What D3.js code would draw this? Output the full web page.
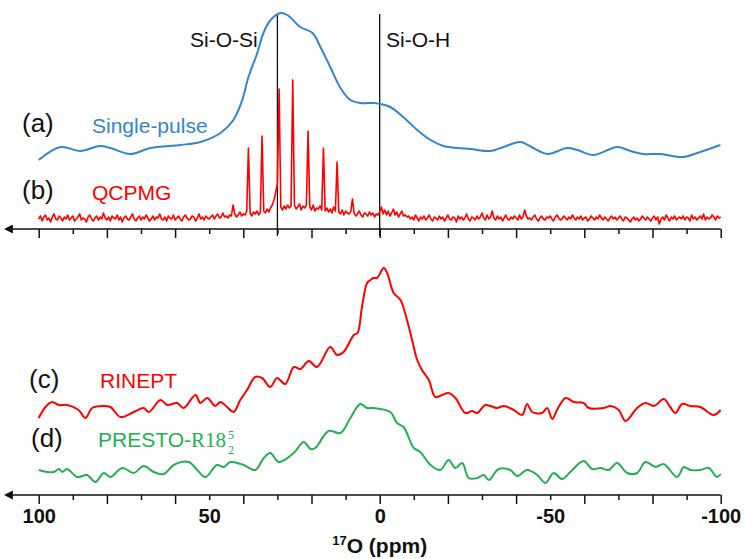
<!DOCTYPE html>
<html>
<head>
<meta charset="utf-8">
<script src="https://cdn.jsdelivr.net/npm/d3@7"></script>
<style>
  body { margin: 0; background: #fff; }
  svg { display: block; font-family: Arial, "Liberation Sans", sans-serif; }
</style>
</head>
<body>
<svg id="chart" width="745" height="559"></svg>
<script>

// (a) single-pulse, [ppm, intensity]
var singlePulse = [
	[100.0,69],[93.6,82],[87.8,78],[81.9,83],[79.0,81],[73.1,75],[67.2,81],[58.4,84],
	[52.6,87],[46.7,96],[42.9,109],[40.3,129],[38.5,152],[35.9,176],[34.1,196],[32.0,209],
	[29.1,216],[27.1,214],[23.3,202],[19.7,196],[17.4,182],[14.5,162],[11.5,141],[8.6,129],
	[5.7,126],[1.8,126],[-0.2,125],[-3.1,122],[-6.9,112],[-11.0,99],[-14.9,89],[-18.7,83],
	[-22.8,81],[-26.6,80],[-32.5,78],[-36.3,82],[-41.3,87],[-45.0,81],[-49.2,75],[-55.0,81],
	[-58.0,79],[-62.7,74],[-69.7,82],[-73.5,78],[-77.3,75],[-82.3,75],[-89.0,72],[-94.0,77],
	[-99.9,84]
];

// (b) QCPMG, sampled every 0.5 ppm from 100 down to -100
var qcpmgStart = 100, qcpmgStep = -0.5;
var qcpmg = [
	10,13,8,12,14,9,11,7,12,15,10,9,13,11,8,12,10,14,9,11,
	13,8,10,12,15,9,11,10,7,12,14,10,8,11,13,9,12,10,16,11,
	9,12,8,13,11,10,14,9,12,7,11,13,10,9,12,15,10,8,11,13,
	9,12,10,14,11,8,10,13,9,12,11,15,10,9,12,8,13,11,10,14,
	9,11,13,10,8,12,14,11,9,10,13,12,8,11,15,10,12,9,13,11,10,
	12,14,10,13,15,11,12,16,12,13,11,14,13,
	24,
	15,12,14,17,13,15,14,18,
	81,
	16,13,17,15,18,14,17,
	93,
	18,16,20,17,21,24,29,37,
	45,
	140,
	22,19,23,20,24,21,23,
	149,
	24,20,22,25,19,23,21,24,
	98,
	22,19,24,18,21,20,23,19,
	81,
	18,21,17,20,16,22,18,
	67,
	17,15,19,14,18,16,15,17,
	30,
	16,13,15,18,14,12,16,15,13,17,14,16,12,15,14,
	17,22,15,19,14,18,13,16,20,14,17,12,15,18,13,14,12,
	13,10,12,9,14,11,8,12,10,13,9,11,14,10,8,12,11,9,13,10,
	12,8,11,14,10,9,12,11,7,13,10,12,9,11,15,10,8,12,11,9,
	13,10,12,16,11,9,14,10,12,18,11,9,13,10,12,8,11,14,10,9,
	12,10,13,11,9,14,10,12,19,13,10,11,9,12,14,10,8,11,13,10,
	9,12,11,13,10,8,12,14,11,9,10,13,11,9,12,10,14,11,9,12,
	10,13,9,11,12,8,10,13,11,9,12,10,14,11,9,12,10,8,11,13,
	10,12,9,11,13,10,8,12,11,9,7,10,12,9,11,8,10,13,11,9,
	12,10,8,11,13,9,12,5,10,12,9,14,11,8,12,10,13,9,11,12,
	10,13,9,12,11,8,14,10,12,9,11,13,10,15,9,12,10,11,14,12,9,13,11,12
];

// (c) RINEPT
var rinept = [
	[100.0,77],[98.0,88],[96.1,93],[94.1,90],[91.7,90],[88.3,85],[86.3,77],[84.3,87],
	[80.9,89],[79.0,88],[76.0,78],[72.1,83],[69.2,87],[67.7,83],[64.3,95],[62.3,90],
	[59.4,92],[57.5,87],[54.0,100],[52.6,92],[50.6,97],[48.2,89],[46.7,93],[44.8,88],
	[42.8,83],[40.9,95],[38.9,105],[36.5,118],[34.5,117],[32.1,108],[30.1,117],[27.7,111],
	[25.2,128],[23.3,126],[20.8,134],[18.4,128],[14.5,148],[12.5,140],[10.6,143],[7.6,160],
	[6.5,162],[5.2,188],[3.7,212],[2.7,215],[1.8,217],[0.8,217],[-1.2,227],[-2.2,222],
	[-4.1,202],[-6.1,195],[-8.0,175],[-9.5,155],[-11.0,135],[-12.4,125],[-14.4,115],[-16.3,98],
	[-18.3,100],[-20.2,102],[-22.2,97],[-25.1,82],[-27.1,84],[-28.6,82],[-31.0,90],[-34.4,87],
	[-36.4,89],[-39.3,85],[-41.8,80],[-43.2,91],[-44.7,83],[-47.6,82],[-49.1,87],[-50.6,76],
	[-52.0,85],[-54.5,97],[-56.9,93],[-59.8,92],[-61.3,87],[-65.7,87],[-67.7,89],[-70.1,85],
	[-72.1,74],[-75.5,87],[-77.9,92],[-80.4,89],[-83.3,96],[-85.2,88],[-86.7,82],[-88.7,91],
	[-91.1,89],[-94.0,88],[-97.9,80],[-100.0,85]
];

// (d) PRESTO-R18
var presto = [
	[100.0,25],[97.5,23],[95.6,23],[94.1,26],[93.1,23],[91.7,26],[88.7,18],[85.8,20],
	[83.4,13],[80.9,22],[79.0,18],[75.5,27],[72.1,22],[69.2,29],[66.3,23],[63.3,21],
	[60.4,30],[56.0,33],[53.5,25],[51.1,18],[47.7,30],[45.7,28],[43.8,33],[39.9,30],
	[36.5,25],[34.0,37],[32.1,42],[29.6,33],[25.2,42],[22.3,53],[20.3,46],[18.9,47],
	[15.0,64],[11.5,62],[8.6,77],[5.7,91],[3.7,87],[1.8,87],[-3.1,83],[-5.1,72],
	[-7.0,68],[-10.0,47],[-11.9,43],[-14.9,30],[-17.8,25],[-20.2,35],[-22.2,27],[-24.2,32],
	[-26.1,17],[-28.6,17],[-30.5,20],[-32.0,15],[-34.9,26],[-38.3,25],[-40.3,19],[-43.2,25],
	[-46.2,20],[-48.6,12],[-51.0,22],[-53.5,16],[-55.9,23],[-59.8,34],[-62.3,26],[-64.7,27],
	[-67.2,25],[-69.6,32],[-72.6,22],[-75.5,22],[-77.9,33],[-80.9,28],[-83.3,31],[-87.2,18],
	[-89.2,28],[-91.1,25],[-94.0,25],[-96.5,27],[-98.9,18],[-100.0,21]
];

var majorTicks = [100, 80, 60, 40, 20, 0, -20, -40, -60, -80, -100];
var minorTicks = [90, 70, 50, 30, 10, -10, -30, -50, -70, -90];
var tickLabels = [100, 50, 0, -50, -100];
var markers = [30, 0];

var svg = d3.select('#chart');
var g = svg.append('g');

var xScale = d3.scaleLinear().domain([100, -100]).range([38.7, 720.7]);
var yTop = d3.scaleLinear().domain([0, 215]).range([229, 14]);
var yBot = d3.scaleLinear().domain([0, 230]).range([495, 265]);

svg.append('defs').append('marker')
	.attr('id', 'arrow')
	.attr('viewBox', '0 0 10 10')
	.attr('refX', 1)
	.attr('refY', 5)
	.attr('markerWidth', 6)
	.attr('markerHeight', 6)
	.attr('orient', 'auto-start-reverse')
	.append('path')
	.attr('d', 'M0,0 L10,5 L0,10 z')
	.style('fill', '#111');

function drawAxis(y, labels) {

	g.append('g')
		.attr('transform', 'translate(0,' + y + ')')
		.call(d3.axisBottom(xScale).tickValues(majorTicks).tickSize(9).tickSizeOuter(0).tickFormat(''))
		.call(function(a) { a.select('.domain').remove(); })
		.selectAll('line').attr('stroke', '#111').attr('stroke-width', 1.5);

	g.append('g')
		.attr('transform', 'translate(0,' + y + ')')
		.call(d3.axisBottom(xScale).tickValues(minorTicks).tickSize(5).tickSizeOuter(0).tickFormat(''))
		.call(function(a) { a.select('.domain').remove(); })
		.selectAll('line').attr('stroke', '#111').attr('stroke-width', 1.5);

	g.append('line') // axis with arrow to the left
		.attr('x1', xScale(-100))
		.attr('y1', y)
		.attr('x2', 12)
		.attr('y2', y)
		.attr('stroke', '#111')
		.attr('stroke-width', 1.5)
		.attr('marker-end', 'url(#arrow)');

	if (labels) {
		var ax = g.append('g')
			.attr('transform', 'translate(0,' + y + ')')
			.call(d3.axisBottom(xScale).tickValues(tickLabels).tickSize(0).tickPadding(14)
				.tickFormat(function(d) { return String(d); }));
		ax.select('.domain').remove();
		ax.selectAll('text')
			.style('font-family', 'Arial, "Liberation Sans", sans-serif')
			.style('font-size', '20px')
			.style('font-weight', 'bold')
			.style('fill', '#111')
			.attr('dy', '0.71em');
	}
}

drawAxis(229, false);
drawAxis(495, true);

markers.forEach(function(m) {
	g.append('line')
		.attr('x1', xScale(m))
		.attr('y1', 14)
		.attr('x2', xScale(m))
		.attr('y2', 236)
		.attr('stroke', '#111')
		.attr('stroke-width', 1.3);
});

var smooth = d3.curveCatmullRom.alpha(0.5);

var lineTop = d3.line()
	.x(function(d) { return xScale(d[0]); })
	.y(function(d) { return yTop(d[1]); })
	.curve(smooth);

var lineBot = d3.line()
	.x(function(d) { return xScale(d[0]); })
	.y(function(d) { return yBot(d[1]); })
	.curve(smooth);

var qcpmgLine = d3.line()
	.x(function(d, i) { return xScale(qcpmgStart + qcpmgStep * i); })
	.y(function(d) { return yTop(d); });

g.append('path')
	.datum(qcpmg)
	.attr('d', qcpmgLine)
	.style('fill', 'none')
	.attr('stroke', '#ff0000')
	.attr('stroke-width', 1.6)
	.attr('stroke-linejoin', 'round');

g.append('path')
	.datum(singlePulse)
	.attr('d', lineTop)
	.style('fill', 'none')
	.attr('stroke', '#3585cc')
	.attr('stroke-width', 2);

g.append('path')
	.datum(rinept)
	.attr('d', lineBot)
	.style('fill', 'none')
	.attr('stroke', '#ff0000')
	.attr('stroke-width', 2);

g.append('path')
	.datum(presto)
	.attr('d', lineBot)
	.style('fill', 'none')
	.attr('stroke', '#22b050')
	.attr('stroke-width', 2);

function label(x, y, txt, size, color) {
	return g.append('text')
		.attr('x', x)
		.attr('y', y)
		.text(txt)
		.style('font-size', size + 'px')
		.style('fill', color);
}

label(190, 47, 'Si-O-Si', 21, '#111');
label(386, 47, 'Si-O-H', 21, '#111');

label(22, 132, '(a)', 26, '#111');
label(92, 133, 'Single-pulse', 21, '#3585cc');
label(22, 199, '(b)', 26, '#111');
label(92, 200, 'QCPMG', 21, '#ff0000');
label(29, 388, '(c)', 26, '#111');
label(100, 388, 'RINEPT', 21, '#ff0000');
label(31, 447, '(d)', 26, '#111');

// PRESTO-R18 with stacked 5 over 2, kept in one text element
var pr = label(98, 447, 'PRESTO-', 21, '#22b050');
pr.append('tspan')
	.text('R18')
	.style('font-family', '"Liberation Serif", "DejaVu Serif", serif');
var prEnd = 98 + pr.node().getComputedTextLength() + 2;
pr.append('tspan')
	.attr('x', prEnd)
	.attr('y', 439)
	.text('5')
	.style('font-size', '12px')
	.style('font-family', '"Liberation Serif", serif');
pr.append('tspan')
	.attr('x', prEnd)
	.attr('y', 454)
	.text('2')
	.style('font-size', '12px')
	.style('font-family', '"Liberation Serif", serif');

// x label
var xl = g.append('text')
	.attr('x', xScale(0))
	.attr('y', 553)
	.attr('text-anchor', 'middle')
	.style('font-size', '21px')
	.style('font-weight', 'bold')
	.style('fill', '#111');
xl.append('tspan').text('17').style('font-size', '13px').attr('dy', -8);
xl.append('tspan').text('O (ppm)').attr('dy', 8);

</script>
</body>
</html>
